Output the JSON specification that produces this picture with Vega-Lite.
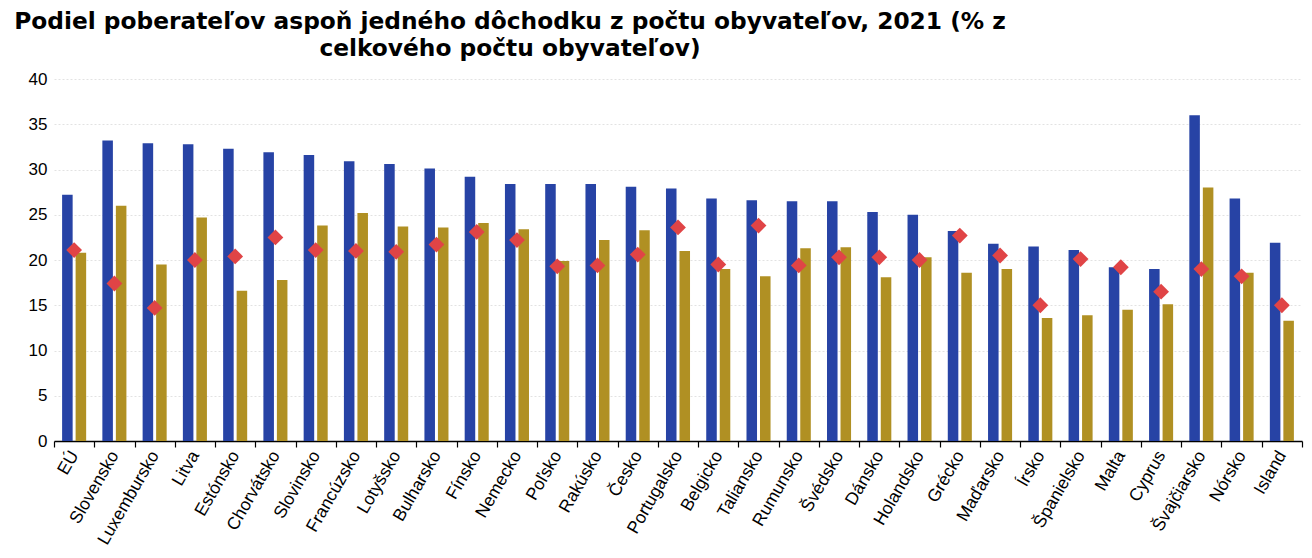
{
  "$schema": "https://vega.github.io/schema/vega-lite/v6.json",
  "width": 1248,
  "height": 362,
  "autosize": {"type": "none"},
  "padding": {"left": 54, "top": 79, "right": 10, "bottom": 117},
  "background": "white",
  "title": {
    "text": ["Podiel poberateľov aspoň jedného dôchodku z počtu obyvateľov, 2021 (% z", "celkového počtu obyvateľov)"],
    "anchor": "start",
    "align": "center",
    "dx": 456,
    "frame": "group",
    "font": "DejaVu Sans",
    "fontSize": 23.3,
    "fontWeight": "bold",
    "color": "black",
    "lineHeight": 27,
    "offset": 9
  },
  "config": {"view": {"stroke": null}},
  "datasets": {
    "stlpce": [
      {"krajina": "EÚ", "rad": "A", "hodnota": 27.2}, {"krajina": "EÚ", "rad": "B", "hodnota": 20.8},
      {"krajina": "Slovensko", "rad": "A", "hodnota": 33.2}, {"krajina": "Slovensko", "rad": "B", "hodnota": 26.0},
      {"krajina": "Luxembursko", "rad": "A", "hodnota": 32.9}, {"krajina": "Luxembursko", "rad": "B", "hodnota": 19.5},
      {"krajina": "Litva", "rad": "A", "hodnota": 32.8}, {"krajina": "Litva", "rad": "B", "hodnota": 24.7},
      {"krajina": "Estónsko", "rad": "A", "hodnota": 32.3}, {"krajina": "Estónsko", "rad": "B", "hodnota": 16.6},
      {"krajina": "Chorvátsko", "rad": "A", "hodnota": 31.9}, {"krajina": "Chorvátsko", "rad": "B", "hodnota": 17.8},
      {"krajina": "Slovinsko", "rad": "A", "hodnota": 31.6}, {"krajina": "Slovinsko", "rad": "B", "hodnota": 23.8},
      {"krajina": "Francúzsko", "rad": "A", "hodnota": 30.9}, {"krajina": "Francúzsko", "rad": "B", "hodnota": 25.2},
      {"krajina": "Lotyšsko", "rad": "A", "hodnota": 30.6}, {"krajina": "Lotyšsko", "rad": "B", "hodnota": 23.7},
      {"krajina": "Bulharsko", "rad": "A", "hodnota": 30.1}, {"krajina": "Bulharsko", "rad": "B", "hodnota": 23.6},
      {"krajina": "Fínsko", "rad": "A", "hodnota": 29.2}, {"krajina": "Fínsko", "rad": "B", "hodnota": 24.1},
      {"krajina": "Nemecko", "rad": "A", "hodnota": 28.4}, {"krajina": "Nemecko", "rad": "B", "hodnota": 23.4},
      {"krajina": "Poľsko", "rad": "A", "hodnota": 28.4}, {"krajina": "Poľsko", "rad": "B", "hodnota": 19.9},
      {"krajina": "Rakúsko", "rad": "A", "hodnota": 28.4}, {"krajina": "Rakúsko", "rad": "B", "hodnota": 22.2},
      {"krajina": "Česko", "rad": "A", "hodnota": 28.1}, {"krajina": "Česko", "rad": "B", "hodnota": 23.3},
      {"krajina": "Portugalsko", "rad": "A", "hodnota": 27.9}, {"krajina": "Portugalsko", "rad": "B", "hodnota": 21.0},
      {"krajina": "Belgicko", "rad": "A", "hodnota": 26.8}, {"krajina": "Belgicko", "rad": "B", "hodnota": 19.0},
      {"krajina": "Taliansko", "rad": "A", "hodnota": 26.6}, {"krajina": "Taliansko", "rad": "B", "hodnota": 18.2},
      {"krajina": "Rumunsko", "rad": "A", "hodnota": 26.5}, {"krajina": "Rumunsko", "rad": "B", "hodnota": 21.3},
      {"krajina": "Švédsko", "rad": "A", "hodnota": 26.5}, {"krajina": "Švédsko", "rad": "B", "hodnota": 21.4},
      {"krajina": "Dánsko", "rad": "A", "hodnota": 25.3}, {"krajina": "Dánsko", "rad": "B", "hodnota": 18.1},
      {"krajina": "Holandsko", "rad": "A", "hodnota": 25.0}, {"krajina": "Holandsko", "rad": "B", "hodnota": 20.3},
      {"krajina": "Grécko", "rad": "A", "hodnota": 23.2}, {"krajina": "Grécko", "rad": "B", "hodnota": 18.6},
      {"krajina": "Maďarsko", "rad": "A", "hodnota": 21.8}, {"krajina": "Maďarsko", "rad": "B", "hodnota": 19.0},
      {"krajina": "Írsko", "rad": "A", "hodnota": 21.5}, {"krajina": "Írsko", "rad": "B", "hodnota": 13.6},
      {"krajina": "Španielsko", "rad": "A", "hodnota": 21.1}, {"krajina": "Španielsko", "rad": "B", "hodnota": 13.9},
      {"krajina": "Malta", "rad": "A", "hodnota": 19.2}, {"krajina": "Malta", "rad": "B", "hodnota": 14.5},
      {"krajina": "Cyprus", "rad": "A", "hodnota": 19.0}, {"krajina": "Cyprus", "rad": "B", "hodnota": 15.1},
      {"krajina": "Švajčiarsko", "rad": "A", "hodnota": 36.0}, {"krajina": "Švajčiarsko", "rad": "B", "hodnota": 28.0},
      {"krajina": "Nórsko", "rad": "A", "hodnota": 26.8}, {"krajina": "Nórsko", "rad": "B", "hodnota": 18.6},
      {"krajina": "Island", "rad": "A", "hodnota": 21.9}, {"krajina": "Island", "rad": "B", "hodnota": 13.3}
    ],
    "body": [
      {"krajina": "EÚ", "hodnota": 21.1},
      {"krajina": "Slovensko", "hodnota": 17.4},
      {"krajina": "Luxembursko", "hodnota": 14.7},
      {"krajina": "Litva", "hodnota": 20.0},
      {"krajina": "Estónsko", "hodnota": 20.4},
      {"krajina": "Chorvátsko", "hodnota": 22.5},
      {"krajina": "Slovinsko", "hodnota": 21.1},
      {"krajina": "Francúzsko", "hodnota": 21.0},
      {"krajina": "Lotyšsko", "hodnota": 20.9},
      {"krajina": "Bulharsko", "hodnota": 21.7},
      {"krajina": "Fínsko", "hodnota": 23.1},
      {"krajina": "Nemecko", "hodnota": 22.2},
      {"krajina": "Poľsko", "hodnota": 19.3},
      {"krajina": "Rakúsko", "hodnota": 19.4},
      {"krajina": "Česko", "hodnota": 20.6},
      {"krajina": "Portugalsko", "hodnota": 23.6},
      {"krajina": "Belgicko", "hodnota": 19.5},
      {"krajina": "Taliansko", "hodnota": 23.8},
      {"krajina": "Rumunsko", "hodnota": 19.4},
      {"krajina": "Švédsko", "hodnota": 20.3},
      {"krajina": "Dánsko", "hodnota": 20.3},
      {"krajina": "Holandsko", "hodnota": 20.0},
      {"krajina": "Grécko", "hodnota": 22.7},
      {"krajina": "Maďarsko", "hodnota": 20.5},
      {"krajina": "Írsko", "hodnota": 15.0},
      {"krajina": "Španielsko", "hodnota": 20.1},
      {"krajina": "Malta", "hodnota": 19.2},
      {"krajina": "Cyprus", "hodnota": 16.5},
      {"krajina": "Švajčiarsko", "hodnota": 19.0},
      {"krajina": "Nórsko", "hodnota": 18.2},
      {"krajina": "Island", "hodnota": 15.0}
    ]
  },
  "encoding": {
    "x": {
      "field": "krajina",
      "type": "nominal",
      "sort": null,
      "scale": {"paddingInner": 0, "paddingOuter": 0},
      "axis": {
        "title": null,
        "labelAngle": -60,
        "labelFont": "Liberation Sans",
        "labelFontSize": 17.5,
        "labelColor": "black",
        "labelPadding": 5,
        "labelOverlap": false,
        "domainColor": "black",
        "domainWidth": 1.5,
        "tickColor": "black",
        "tickWidth": 1.2,
        "tickSize": 6,
        "tickBand": "extent",
        "grid": false
      }
    },
    "y": {
      "field": "hodnota",
      "type": "quantitative",
      "scale": {"domain": [0, 40], "nice": false},
      "axis": {
        "title": null,
        "values": [0, 5, 10, 15, 20, 25, 30, 35, 40],
        "domain": false,
        "ticks": false,
        "labelFont": "Liberation Sans",
        "labelFontSize": 17,
        "labelColor": "black",
        "labelPadding": 7,
        "gridColor": "#e2e2e2",
        "gridDash": [2, 2],
        "gridWidth": 1
      }
    }
  },
  "layer": [
    {
      "data": {"name": "stlpce"},
      "mark": {"type": "bar"},
      "encoding": {
        "xOffset": {"field": "rad", "type": "nominal", "scale": {"paddingInner": 0.22, "paddingOuter": 0.6}},
        "color": {"field": "rad", "type": "nominal", "scale": {"domain": ["A", "B"], "range": ["#2743a5", "#b09023"]}, "legend": null}
      }
    },
    {
      "data": {"name": "body"},
      "mark": {"type": "point", "shape": "diamond", "filled": true, "size": 250, "color": "#e04446", "opacity": 1}
    }
  ]
}
